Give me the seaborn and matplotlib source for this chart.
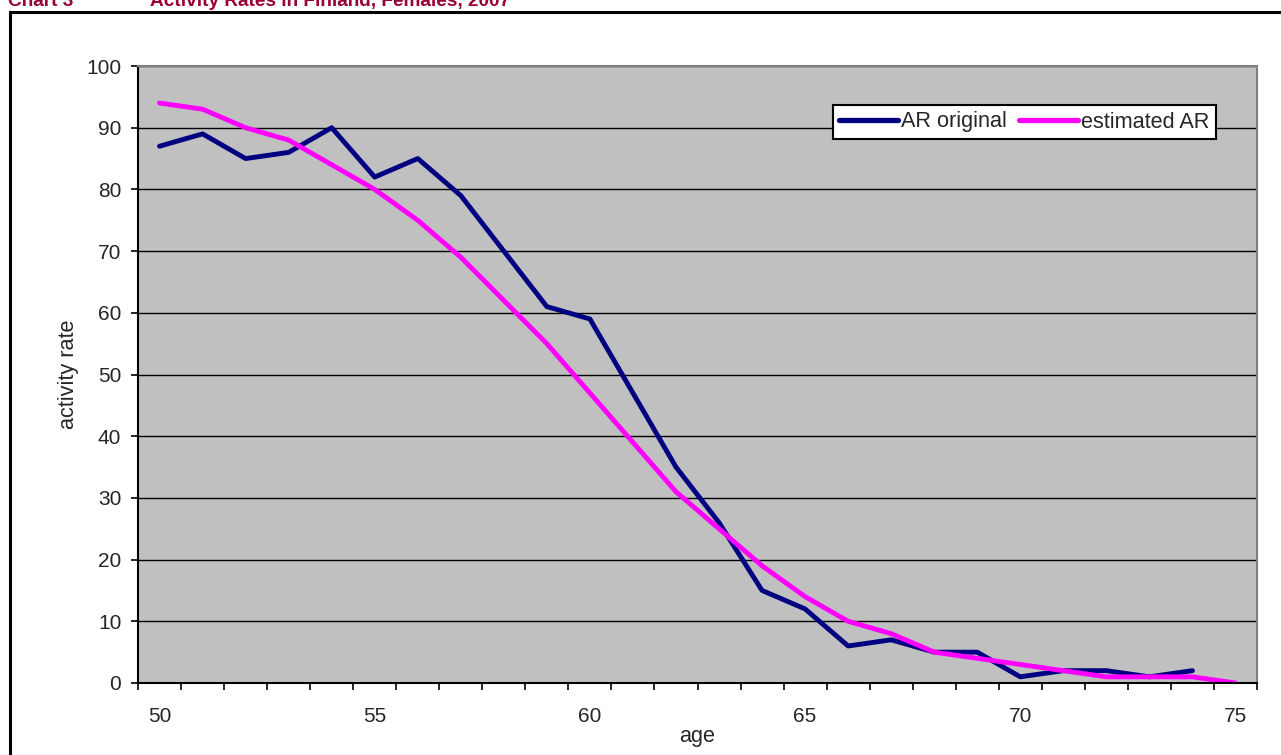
import matplotlib
matplotlib.use("Agg")
import matplotlib.pyplot as plt
import matplotlib.patches as mpatches
import numpy as np
import pandas as pd
import seaborn as sns

ages = list(range(50, 76))
ar_original = [87, 89, 85, 86, 90, 82, 85, 79, 70, 61, 59, 47, 35, 26, 15, 12,
               6, 7, 5, 5, 1, 2, 2, 1, 2, np.nan]
estimated_ar = [94, 93, 90, 88, 84, 80, 75, 69, 62, 55, 47, 39, 31, 25, 19, 14,
                10, 8, 5, 4, 3, 2, 1, 1, 1, 0]
series_names = ['AR original', 'estimated AR']
series_colors = ['#000080', '#FF00FF']

df = pd.DataFrame({
    'age': ages * 2,
    'value': ar_original + estimated_ar,
    'series': [series_names[0]] * len(ages) + [series_names[1]] * len(ages),
})

sns.set_style('white')
plt.rcParams['font.family'] = ['Liberation Sans', 'DejaVu Sans']
tick_fs = 15
label_fs = 15.6

fig = plt.figure(figsize=(12.81, 7.55), dpi=100)
ax = fig.add_axes([138 / 1281, 72 / 755, 1119 / 1281, 617 / 755])
ax.set_facecolor('#C0C0C0')

sns.lineplot(data=df.dropna(), x='age', y='value', hue='series',
             palette=dict(zip(series_names, series_colors)), linewidth=3.5,
             ax=ax, legend=True, sort=False)
for line in ax.lines:
    line.set_solid_capstyle('round')

ax.set_xlim(49.5, 75.5)
ax.set_ylim(0, 100)
ax.set_yticks(range(0, 101, 10))
ax.yaxis.grid(True, color='black', linewidth=1)
ax.set_axisbelow(True)

ax.set_xticks([50, 55, 60, 65, 70, 75])
ax.set_xticks(np.arange(49.5, 76, 1), minor=True)
ax.tick_params(axis='x', which='major', length=0, pad=17, labelsize=tick_fs)
ax.tick_params(axis='x', which='minor', length=5, width=1.2, color='black', direction='out', bottom=True)
ax.tick_params(axis='y', length=5, width=1.2, color='black', direction='out', left=True, labelsize=tick_fs, pad=7)

for side in ['left', 'bottom']:
    ax.spines[side].set_color('black')
    ax.spines[side].set_linewidth(1.5)
for side in ['top', 'right']:
    ax.spines[side].set_color('#808080')
    ax.spines[side].set_linewidth(1.5)

ax.set_xlabel('age', fontsize=label_fs, labelpad=0.5)
ax.set_ylabel('activity rate', fontsize=label_fs, labelpad=5.5)

handles, labels = ax.get_legend_handles_labels()
leg = ax.legend(handles, labels, ncol=2, loc='upper left',
                bbox_to_anchor=(833 / 1281, 1 - 105 / 755), bbox_transform=fig.transFigure,
                frameon=True, fancybox=False, edgecolor='black', facecolor='white',
                framealpha=1, fontsize=label_fs, handlelength=2.7, handletextpad=0.15,
                columnspacing=0.55, borderpad=0.3, borderaxespad=0)
leg.get_frame().set_linewidth(1.5)
for h in leg.get_lines():
    h.set_linewidth(3.8)

# outer chart frame
fig.patches.append(mpatches.Rectangle((10 / 1281, -0.02), 1.05, 1 - 12 / 755 + 0.02,
                                      transform=fig.transFigure, fill=False,
                                      edgecolor='black', linewidth=2.2))

title_color = '#990033'
fig.text(8 / 1281, 1 - 6 / 755, 'Chart 3', color=title_color, fontsize=13.7,
         fontweight='bold', va='baseline', ha='left')
fig.text(150 / 1281, 1 - 6 / 755, 'Activity Rates in Finland, Females, 2007',
         color=title_color, fontsize=13.7, fontweight='bold', va='baseline', ha='left')

fig.savefig('out.png', dpi=100)
